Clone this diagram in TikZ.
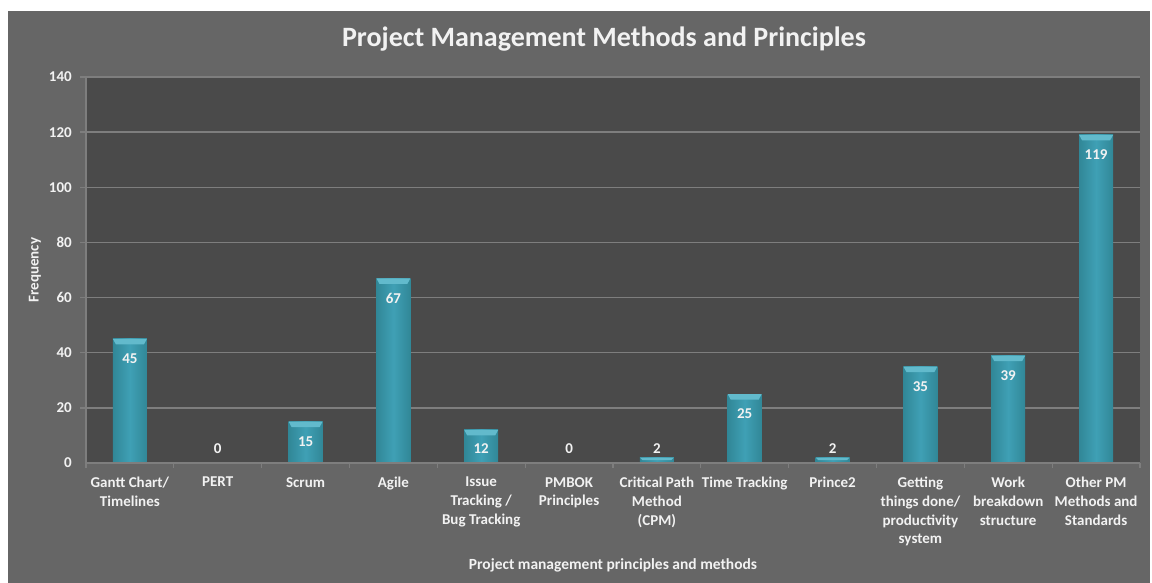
\documentclass[tikz,border=0pt]{standalone}
\usepackage{fontspec}
\setmainfont{Carlito}
\usetikzlibrary{positioning}

\definecolor{panel}{HTML}{666666}
\definecolor{plotbg}{HTML}{4A4A4A}
\definecolor{gridc}{HTML}{7E7E7E}
\definecolor{labelc}{HTML}{F2F2F2}
\definecolor{barface}{HTML}{3FA0B5}
\definecolor{baredge}{HTML}{318797}
\definecolor{bartop}{HTML}{62BACC}

\tikzset{
  gridline/.style={gridc, line width=1.4pt},
  ticklabel/.style={anchor=east, text=labelc, font=\fontsize{15}{17}\selectfont\bfseries, inner sep=0pt},
  catlabel/.style={anchor=north, text=labelc, align=center, inner sep=0pt,
                   font=\fontsize{15}{18.7}\selectfont\bfseries},
  vallabel/.style={text=labelc, font=\fontsize{15}{17}\selectfont\bfseries, inner sep=0pt},
  bar/.style={left color=baredge, right color=baredge, middle color=barface},
  bevel/.style={fill=bartop}
}

\begin{document}
\begin{tikzpicture}[x=1pt, y=-1pt]

            \useasboundingbox (0,0) rectangle (1152,583);
            \fill[white] (0,0) rectangle (1152,583);
            \fill[panel] (8,11) rectangle (1150,583);
            \fill[plotbg] (86,77) rectangle (1140,463);

            % \draw [help lines] (0,0) grid (1152,583);

            % gridlines and y ticks
            \draw[gridline] (80,407.86) -- (1140,407.86);
            \draw[gridline] (80,352.71) -- (1140,352.71);
            \draw[gridline] (80,297.57) -- (1140,297.57);
            \draw[gridline] (80,242.43) -- (1140,242.43);
            \draw[gridline] (80,187.29) -- (1140,187.29);
            \draw[gridline] (80,132.14) -- (1140,132.14);
            \draw[gridline] (80,77) -- (1140,77);
            \draw[gridline] (86,77) -- (86,463);

            \path   (72,463) node (t0) [ticklabel] {0}
                    (72,407.86) node (t20) [ticklabel] {20}
                    (72,352.71) node (t40) [ticklabel] {40}
                    (72,297.57) node (t60) [ticklabel] {60}
                    (72,242.43) node (t80) [ticklabel] {80}
                    (72,187.29) node (t100) [ticklabel] {100}
                    (72,132.14) node (t120) [ticklabel] {120}
                    (72,77) node (t140) [ticklabel] {140};

            % bars
            \shade[bar] (112.9,463) rectangle (146.9,338.9);
            \fill[bevel] (112.9,338.9) -- (146.9,338.9) -- (143.9,344.4) -- (115.9,344.4) -- cycle;
            \shade[bar] (288.6,463) rectangle (322.6,421.6);
            \fill[bevel] (288.6,421.6) -- (322.6,421.6) -- (319.6,427.1) -- (291.6,427.1) -- cycle;
            \shade[bar] (376.4,463) rectangle (410.4,278.3);
            \fill[bevel] (376.4,278.3) -- (410.4,278.3) -- (407.4,283.8) -- (379.4,283.8) -- cycle;
            \shade[bar] (464.2,463) rectangle (498.2,429.9);
            \fill[bevel] (464.2,429.9) -- (498.2,429.9) -- (495.2,435.4) -- (467.2,435.4) -- cycle;
            \shade[bar] (639.9,463) rectangle (673.9,457.5);
            \fill[bevel] (639.9,457.5) -- (673.9,457.5) -- (671.4,460) -- (642.4,460) -- cycle;
            \shade[bar] (727.7,463) rectangle (761.7,394.1);
            \fill[bevel] (727.7,394.1) -- (761.7,394.1) -- (758.7,399.6) -- (730.7,399.6) -- cycle;
            \shade[bar] (815.6,463) rectangle (849.6,457.5);
            \fill[bevel] (815.6,457.5) -- (849.6,457.5) -- (847.1,460) -- (818.1,460) -- cycle;
            \shade[bar] (903.4,463) rectangle (937.4,366.5);
            \fill[bevel] (903.4,366.5) -- (937.4,366.5) -- (934.4,372) -- (906.4,372) -- cycle;
            \shade[bar] (991.2,463) rectangle (1025.2,355.5);
            \fill[bevel] (991.2,355.5) -- (1025.2,355.5) -- (1022.2,361) -- (994.2,361) -- cycle;
            \shade[bar] (1079.1,463) rectangle (1113.1,134.9);
            \fill[bevel] (1079.1,134.9) -- (1113.1,134.9) -- (1110.1,140.4) -- (1082.1,140.4) -- cycle;

            % x axis and ticks
            \draw[gridline] (86,463) -- (1140,463);
            \draw[gridc, line width=1.2pt] (86,463) -- (86,468) (173.8,463) -- (173.8,468)
                    (261.7,463) -- (261.7,468) (349.5,463) -- (349.5,468)
                    (437.3,463) -- (437.3,468) (525.2,463) -- (525.2,468)
                    (613,463) -- (613,468) (700.8,463) -- (700.8,468)
                    (788.7,463) -- (788.7,468) (876.5,463) -- (876.5,468)
                    (964.3,463) -- (964.3,468) (1052.2,463) -- (1052.2,468)
                    (1140,463) -- (1140,468);

            % values
            \path   (129.9,359) node (v1) [vallabel] {45}
                    (217.7,449) node (v2) [vallabel] {0}
                    (305.6,442) node (v3) [vallabel] {15}
                    (393.4,298.5) node (v4) [vallabel] {67}
                    (481.2,449) node (v5) [vallabel] {12}
                    (569.1,449) node (v6) [vallabel] {0}
                    (656.9,449) node (v7) [vallabel] {2}
                    (744.7,414) node (v8) [vallabel] {25}
                    (832.6,449) node (v9) [vallabel] {2}
                    (920.4,386.5) node (v10) [vallabel] {35}
                    (1008.2,375.5) node (v11) [vallabel] {39}
                    (1096.1,155) node (v12) [vallabel] {119};

            % categories
            \path   (129.9,477) node (c1) [catlabel] {Gantt Chart/\\Timelines}
                    (217.7,477) node (c2) [catlabel] {PERT}
                    (305.6,477) node (c3) [catlabel] {Scrum}
                    (393.4,477) node (c4) [catlabel] {Agile}
                    (481.2,477) node (c5) [catlabel] {Issue\\Tracking /\\Bug Tracking}
                    (569.1,477) node (c6) [catlabel] {PMBOK\\Principles}
                    (656.9,477) node (c7) [catlabel] {Critical Path\\Method\\(CPM)}
                    (744.7,477) node (c8) [catlabel] {Time Tracking}
                    (832.6,477) node (c9) [catlabel] {Prince2}
                    (920.4,477) node (c10) [catlabel] {Getting\\things done/\\productivity\\system}
                    (1008.2,477) node (c11) [catlabel] {Work\\breakdown\\structure}
                    (1096.1,477) node (c12) [catlabel] {Other PM\\Methods and\\Standards};

            % titles
            \node (title) at (604,39) [text=labelc, font=\fontsize{28}{32}\selectfont\bfseries] {Project Management Methods and Principles};
            \node (xtitle) at (613,565) [text=labelc, font=\fontsize{15.5}{18}\selectfont\bfseries] {Project management principles and methods};
            \node (ytitle) at (35,270) [rotate=90, text=labelc, font=\fontsize{15}{18}\selectfont\bfseries] {Frequency};

\end{tikzpicture}
\end{document}
